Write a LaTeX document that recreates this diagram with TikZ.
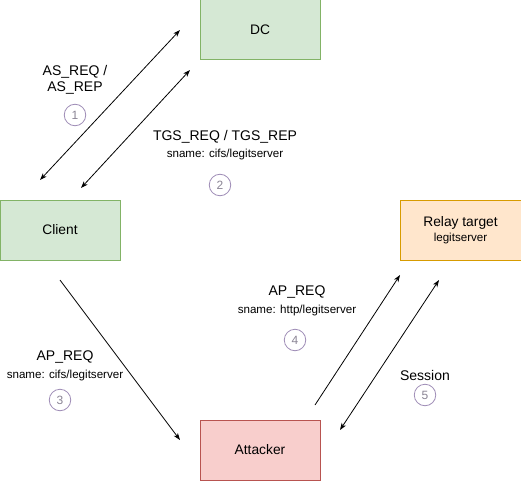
\documentclass[tikz,border=0pt]{standalone}
\usepackage{fontspec}
\setmainfont{Liberation Sans}
\usetikzlibrary{arrows.meta}
\definecolor{greenfill}{HTML}{D5E8D4}
\definecolor{greenline}{HTML}{82B366}
\definecolor{orangefill}{HTML}{FFE6CC}
\definecolor{orangeline}{HTML}{D79B00}
\definecolor{redfill}{HTML}{F8CECC}
\definecolor{redline}{HTML}{B85450}
\definecolor{circline}{HTML}{9E8CB6}
\definecolor{circtext}{HTML}{8A8494}
\tikzset{
  box/.style={draw=#1line, fill=#1fill, line width=1pt, minimum width=120pt, minimum height=60pt, inner sep=0pt, font=\fontsize{13.8}{16}\selectfont, align=center},
  lbl/.style={font=\fontsize{14}{16}\selectfont, align=center, inner sep=0pt},
  sublbl/.style={font=\fontsize{11.6}{13}\selectfont, inner sep=0pt},
  stepcirc/.style={circle, draw=circline, line width=0.8pt, minimum size=21.5pt, inner sep=0pt, text=circtext, font=\fontsize{12}{13}\selectfont},
  conn/.style={line width=0.8pt, -{Stealth[length=7pt,width=5pt,inset=2pt]}},
  conn2/.style={line width=0.8pt, {Stealth[length=7pt,width=5pt,inset=2pt]}-{Stealth[length=7pt,width=5pt,inset=2pt]}}
}
\begin{document}
\begin{tikzpicture}[x=1pt,y=-1pt]
\useasboundingbox (0,0) rectangle (521,481);
\node[box=green] (dc) at (260,30) {DC};
\node[box=green] (client) at (60,230) {Client};
\node[box=orange, minimum width=121pt] (relay) at (460.5,230) {Relay target\\[-1pt]{\fontsize{11.6}{13}\selectfont legitserver}};
\node[box=red] (attacker) at (260,450) {Attacker};

\coordinate (a1s) at (40,180);
\coordinate (a1e) at (180,30);
\coordinate (a2s) at (81,188);
\coordinate (a2e) at (190,70);
\coordinate (a3s) at (60,280);
\coordinate (a3e) at (180,440);
\coordinate (a4s) at (315,405);
\coordinate (a4e) at (400,275);
\coordinate (a5s) at (340,430);
\coordinate (a5e) at (439,280);

\draw[conn2] (a1s) -- (a1e);
\draw[conn2] (a2s) -- (a2e);
\draw[conn] (a3s) -- (a3e);
\draw[conn] (a4s) -- (a4e);
\draw[conn2] (a5s) -- (a5e);

\node[lbl] (l1) at (75,80) {AS\_REQ /\\AS\_REP};
\node[stepcirc] (c1) at (75,115) {1};

\node[lbl] (l2) at (225,137) {TGS\_REQ / TGS\_REP};
\node[sublbl] (s2) at (225,155) {sname: cifs/legitserver};
\node[stepcirc] (c2) at (220,185) {2};

\node[lbl] (l3) at (65,357) {AP\_REQ};
\node[sublbl] (s3) at (65,375) {sname: cifs/legitserver};
\node[stepcirc] (c3) at (60,400) {3};

\node[lbl] (l4) at (297,292) {AP\_REQ};
\node[sublbl] (s4) at (297,310) {sname: http/legitserver};
\node[stepcirc] (c4) at (295,340) {4};

\node[lbl] (l5) at (425,375) {Session};
\node[stepcirc] (c5) at (425,395) {5};
\end{tikzpicture}
\end{document}
